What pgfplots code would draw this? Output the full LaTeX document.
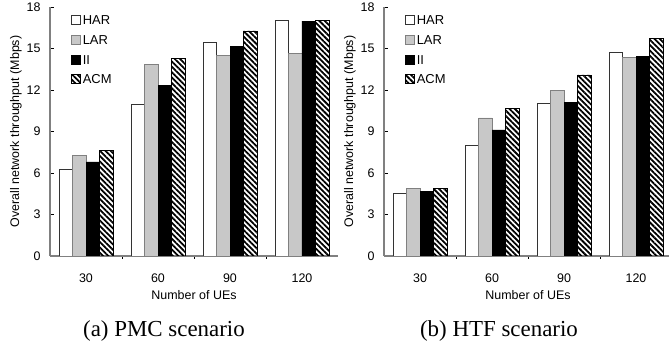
\documentclass[border=0pt]{standalone}
\usepackage{fontspec}
\setmainfont{Liberation Serif}
\setsansfont{Liberation Sans}
\usepackage{pgfplots}
\pgfplotsset{compat=1.18}
\usetikzlibrary{patterns.meta}
\definecolor{axgray}{HTML}{808080}
\definecolor{lgray}{HTML}{C8C8C8}
\pgfplotsset{
  myaxis/.style={
    scale only axis, width=288bp, height=249bp,
    xmin=-0.5, xmax=3.5, ymin=0, ymax=18,
    ytick={0,3,...,18},
    xtick={0,1,2,3}, xticklabels={30,60,90,120},
    major x tick style={draw=none},
    minor xtick={0.5,1.5,2.5},
    minor tick length=3bp,
    minor x tick style={black, line width=0.6bp},
    major tick length=4bp,
    y tick style={black, line width=0.8bp},
    tick align=inside,
    axis x line*=bottom, axis y line*=left,
    axis line style={axgray, line width=1.2bp, -},
    ybar=0pt, bar width=0.1875,
    /pgf/number format/assume math mode=true,
    font=\sffamily\fontsize{12.5}{13}\selectfont,
    ticklabel style={font=\sffamily\fontsize{12.5}{13}\selectfont},
    xticklabel style={yshift=-10bp},
    yticklabel style={xshift=-6bp},
    xlabel={Number of UEs},
    ylabel={Overall network throughput (Mbps)},
    label style={font=\sffamily\fontsize{12.5}{13}\selectfont},
    xlabel style={yshift=-1bp},
    ylabel style={yshift=-2bp},
    legend style={draw=none, fill=none, at={(18bp,243bp)}, anchor=north west,
      font=\sffamily\fontsize{13}{14}\selectfont,
      nodes={inner sep=0.5bp, text height=9bp, text depth=0bp},
      row sep=9.7bp,
      /tikz/every odd column/.append style={column sep=1.5bp}},
    legend cell align=left,
    legend image code/.code={\draw[#1, line width=0.6bp] (0bp,-4.5bp) rectangle (9bp,4.5bp);},
  },
  sHAR/.style={draw=black!80, fill=white, line width=0.8bp},
  sLAR/.style={draw=axgray, fill=lgray, line width=0.8bp},
  sII/.style={draw=black, fill=black, line width=0.8bp},
  sACM/.style={draw=black, line width=0.8bp, pattern={Lines[angle=-45,distance=3.8bp,line width=1.8bp]}, pattern color=black},
}
\begin{document}
\begin{tikzpicture}
\path[use as bounding box] (0,0) rectangle (669bp,341bp);
\begin{axis}[myaxis, at={(50bp,85bp)}, anchor=south west]
\addplot[sHAR] coordinates {(0,6.28) (1,10.95) (2,15.45) (3,17.0)};
\addplot[sLAR] coordinates {(0,7.28) (1,13.82) (2,14.47) (3,14.66)};
\addplot[sII] coordinates {(0,6.80) (1,12.31) (2,15.16) (3,16.97)};
\addplot[sACM] coordinates {(0,7.62) (1,14.25) (2,16.27) (3,17.0)};
\legend{HAR,LAR,II,ACM}
\end{axis}
\begin{axis}[myaxis, at={(384bp,85bp)}, anchor=south west]
\addplot[sHAR] coordinates {(0,4.52) (1,8.02) (2,11.05) (3,14.74)};
\addplot[sLAR] coordinates {(0,4.91) (1,9.98) (2,11.95) (3,14.38)};
\addplot[sII] coordinates {(0,4.64) (1,9.11) (2,11.12) (3,14.40)};
\addplot[sACM] coordinates {(0,4.91) (1,10.69) (2,13.09) (3,15.72)};
\legend{HAR,LAR,II,ACM}
\end{axis}
\node[font=\rmfamily\fontsize{23}{24}\selectfont] at (164bp,10.5bp) {(a) PMC scenario};
\node[font=\rmfamily\fontsize{23}{24}\selectfont] at (499bp,10.5bp) {(b) HTF scenario};
\end{tikzpicture}
\end{document}
